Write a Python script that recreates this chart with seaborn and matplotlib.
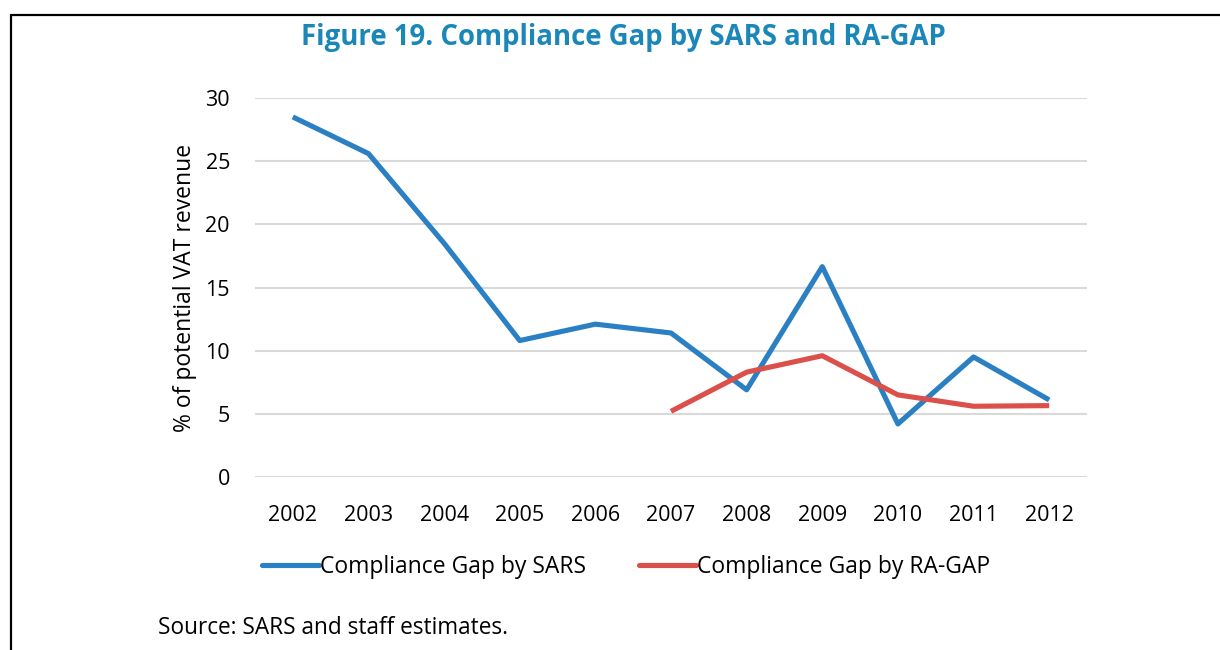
import matplotlib
matplotlib.use("Agg")
import matplotlib.pyplot as plt
import seaborn as sns
import pandas as pd
import numpy as np
from matplotlib.lines import Line2D

years = ["2002", "2003", "2004", "2005", "2006", "2007", "2008", "2009", "2010", "2011", "2012"]
sars = [28.5, 25.6, 18.5, 10.8, 12.1, 11.4, 6.9, 16.65, 4.2, 9.5, 6.1]
ragap = [np.nan, np.nan, np.nan, np.nan, np.nan, 5.2, 8.3, 9.6, 6.5, 5.6, 5.65]
series_names = ["Compliance Gap by SARS", "Compliance Gap by RA-GAP"]
yticks = [0, 5, 10, 15, 20, 25, 30]

sns.set_theme(style="white")
plt.rcParams['font.family'] = ['Open Sans', 'DejaVu Sans']
plt.rcParams['text.color'] = 'black'
plt.rcParams['axes.labelcolor'] = 'black'

fig = plt.figure(figsize=(12.2, 6.5), dpi=100)
ax = fig.add_axes([255/1220, 1-477/650, (1087-255)/1220, (477-98)/650])

df = pd.DataFrame({
    "year": years * 2,
    "x": list(range(len(years))) * 2,
    "value": sars + ragap,
    "series": [series_names[0]] * len(years) + [series_names[1]] * len(years),
})
palette = {series_names[0]: "#2A80C2", series_names[1]: "#DC504C"}
sns.lineplot(data=df, x="x", y="value", hue="series", palette=palette,
             linewidth=3.7, ax=ax, legend=False, solid_capstyle="butt")

ax.set_xlim(-0.5, len(years) - 0.5)
ax.set_ylim(0, 30)
ax.set_yticks(yticks)
ax.set_xticks(range(len(years)))
ax.set_xticklabels(years)
ax.yaxis.grid(True, color="#D9D9D9", linewidth=1.5)
ax.xaxis.grid(False)
for s in ax.spines.values():
    s.set_visible(False)
ax.tick_params(axis="both", length=0, labelsize=15.5, colors="#000000")
ax.tick_params(axis="y", pad=18)
ax.tick_params(axis="x", pad=20)
ax.set_xlabel("")
ax.set_ylabel("% of potential VAT revenue", fontsize=16.5, labelpad=6, color="black")

handles = [Line2D([0], [0], color=palette[n], linewidth=3.7) for n in series_names]
leg = fig.legend(handles, series_names, loc="center", bbox_to_anchor=(626/1220, 1-567/650),
                 ncol=2, frameon=False, fontsize=16.5, handlelength=2.5, handletextpad=0.05,
                 columnspacing=2.3)
for t in leg.get_texts():
    t.set_color("black")

fig.text(623/1220, 1-37/650, "Figure 19. Compliance Gap by SARS and RA-GAP",
         ha="center", va="center", fontsize=19.8, fontweight="bold", color="#1A87B8")
fig.text(158/1220, 1-628/650, "Source: SARS and staff estimates.", ha="left", va="center",
         fontsize=16.3, color="black")

fig.add_artist(Line2D([11/1220, 1.0], [1-15/650, 1-15/650], color="black", linewidth=1.6,
                      transform=fig.transFigure))
fig.add_artist(Line2D([11/1220, 11/1220], [1-15/650, 0], color="black", linewidth=1.6,
                      transform=fig.transFigure))

fig.savefig("out.png", dpi=100)
